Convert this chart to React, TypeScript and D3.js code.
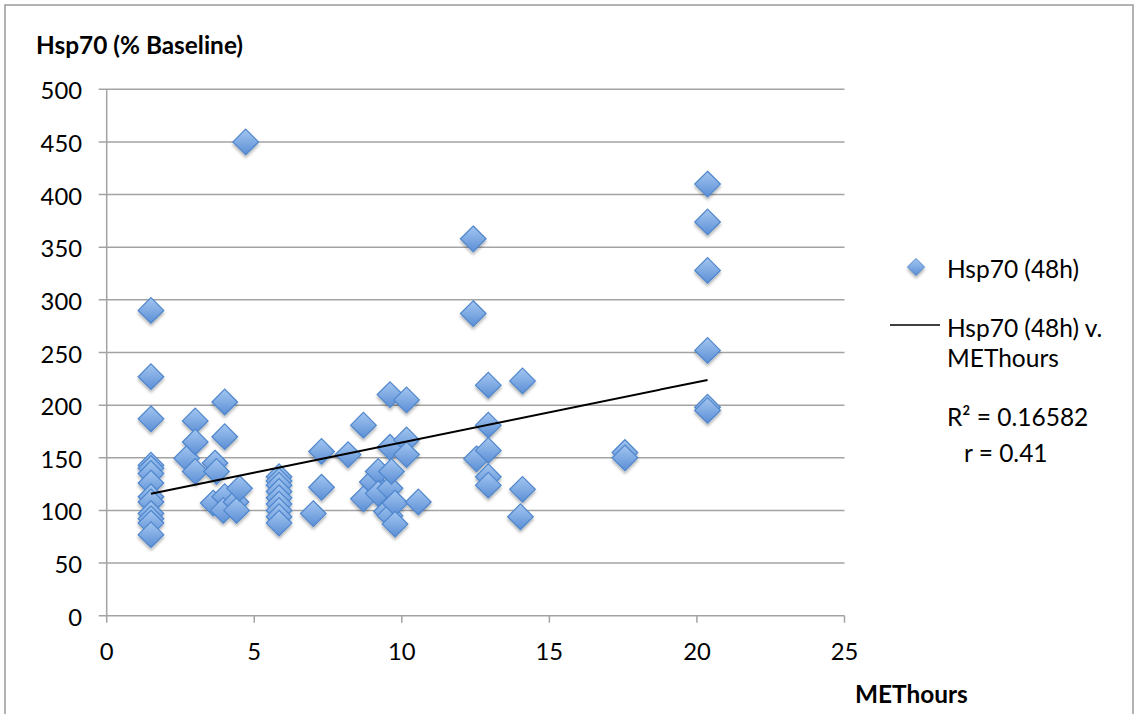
import React from "react";
import * as d3 from "d3";

const metHours: number[] = [
  1.5, 1.5, 1.5, 1.5, 1.5, 1.5, 1.5, 1.5, 1.5, 1.5, 1.5, 1.5, 1.5,
  2.71, 3.0, 3.0, 3.0, 3.67, 3.72, 3.61, 4.0, 4.0, 4.0, 3.95, 4.38, 4.4, 4.5, 4.71,
  5.84, 5.84, 5.84, 5.84, 5.84, 5.84, 5.84, 5.84, 5.84,
  7.0, 7.28, 7.28, 8.18, 8.7, 8.7, 9.0, 9.2, 9.2, 9.48, 9.6, 9.6, 9.6, 9.6, 9.65,
  9.77, 9.77, 10.16, 10.16, 10.16, 10.56,
  12.42, 12.42, 12.53, 12.93, 12.93, 12.93, 12.93, 12.93, 14.09, 14.09, 14.02,
  17.56, 17.56, 20.36, 20.36, 20.36, 20.36, 20.36, 20.36,
];
const hsp70: number[] = [
  290, 227, 187, 143, 140, 135, 126, 113, 108, 97, 92, 88, 77,
  149.5, 185, 165, 137, 145, 137, 107, 203, 170, 113, 100, 108, 100, 121, 450,
  132, 128, 124, 118, 112, 106, 100, 94, 88,
  97, 156, 122, 153, 181, 111, 127, 137, 116, 99, 210, 160, 121, 95, 137,
  107, 87, 205, 167, 153, 108,
  358, 287, 149, 219, 181, 157, 132, 124, 223, 120, 94,
  155, 150, 410, 374, 328, 252, 198, 195,
];
const xTicks: number[] = [0, 5, 10, 15, 20, 25];
const yTicks: number[] = [0, 50, 100, 150, 200, 250, 300, 350, 400, 450, 500];
// trendline: y = intercept + slope * x, over data range
const trendSlope = 5.73;
const trendIntercept = 107.3;
const trendRange: number[] = [1.5, 20.36];

const seriesName = "Hsp70 (48h)";
const trendNameLines: string[] = ["Hsp70 (48h) v.", "METhours"];
const rSquaredText = "R² = 0.16582";
const rText = "r = 0.41";
const yTitle = "Hsp70 (% Baseline)";
const xTitle = "METhours";

export default function App() {
  const W = 1144, H = 714;
  const x0 = 106.7, x1 = 844.5, yTop = 89.3, yBot = 615.7;
  const x = d3.scaleLinear().domain([0, 25]).range([x0, x1]);
  const y = d3.scaleLinear().domain([0, 500]).range([yBot, yTop]);
  const font = "Lato, 'Noto Sans', sans-serif";
  const gridColor = "#a3a3a3";
  const diamond = (r: number) => `M0,${-r}L${r},0L0,${r}L${-r},0Z`;
  const pts = metHours.map((m, i) => ({ m, v: hsp70[i] }));
  const line = d3.line<number>().x((d) => x(d)).y((d) => y(trendIntercept + trendSlope * d));
  const legFs = 24.5;

  return (
    <svg width={W} height={H} style={{ position: "absolute", left: 0, top: 0, background: "#fff" }} fontFamily={font}>
      <defs>
        <linearGradient id="dg" x1="0" y1="0" x2="0" y2="1">
          <stop offset="0" stopColor="#a3c6f0" />
          <stop offset="1" stopColor="#5c8fd6" />
        </linearGradient>
        <filter id="sh" x="-50%" y="-50%" width="200%" height="200%">
          <feDropShadow dx="0" dy="2.5" stdDeviation="1.8" floodColor="#000" floodOpacity="0.3" />
        </filter>
      </defs>
      <rect x={5} y={5} width={1128} height={720} fill="none" stroke="#9a9a9a" strokeWidth={1.5} />
      {yTicks.map((t) => (
        <line key={"g" + t} x1={x0 - 8} x2={x1} y1={y(t)} y2={y(t)} stroke={gridColor} strokeWidth={1.5} />
      ))}
      <line x1={x0} x2={x0} y1={yTop} y2={yBot} stroke={gridColor} strokeWidth={1.5} />
      {xTicks.map((t) => (
        <line key={"xt" + t} x1={x(t)} x2={x(t)} y1={yBot} y2={yBot + 7} stroke={gridColor} strokeWidth={1.5} />
      ))}
      {yTicks.map((t) => (
        <text key={"yl" + t} x={82} y={y(t) + 10} textAnchor="end" fontSize={23.8} fill="#000">
          {t}
        </text>
      ))}
      {xTicks.map((t) => (
        <text key={"xl" + t} x={x(t)} y={660} textAnchor="middle" fontSize={23.8} fill="#000">
          {t}
        </text>
      ))}
      <text x={36} y={54} fontSize={24.4} fontWeight="bold" fill="#000">{yTitle}</text>
      <text x={855} y={703} fontSize={24.4} fontWeight="bold" fill="#000">{xTitle}</text>
      <g filter="url(#sh)">
        {pts.map((p, i) => (
          <path key={"p" + i} d={diamond(12.8)} transform={`translate(${x(p.m)},${y(p.v)})`} fill="url(#dg)" stroke="#4f86cc" strokeWidth={1.2} />
        ))}
      </g>
      <path d={line(trendRange) || ""} fill="none" stroke="#000" strokeWidth={2} />
      <path d={diamond(8.5)} transform="translate(916,267)" fill="url(#dg)" stroke="#4f86cc" strokeWidth={1} filter="url(#sh)" />
      <text x={947} y={278} fontSize={legFs} fill="#000">{seriesName}</text>
      <line x1={890} x2={940} y1={325} y2={325} stroke="#000" strokeWidth={1.5} />
      <text x={947} y={337} fontSize={legFs} fill="#000">{trendNameLines[0]}</text>
      <text x={947} y={367} fontSize={legFs} fill="#000">{trendNameLines[1]}</text>
      <text x={947} y={426} fontSize={legFs} fill="#000">{rSquaredText}</text>
      <text x={964} y={462} fontSize={legFs} fill="#000">{rText}</text>
    </svg>
  );
}
